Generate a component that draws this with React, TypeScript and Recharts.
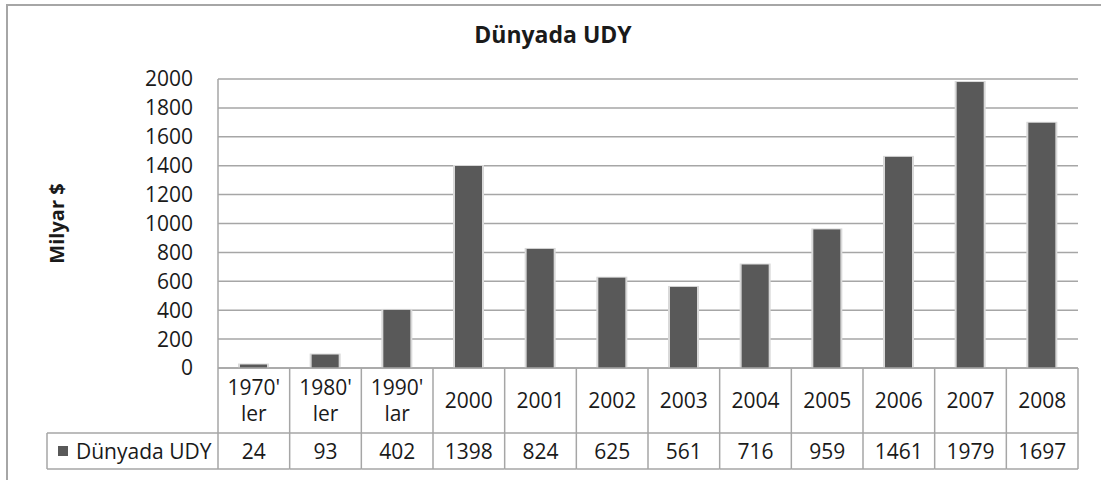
import { BarChart, Bar, XAxis, YAxis, CartesianGrid } from 'recharts';

const categories = ["1970' ler", "1980' ler", "1990' lar", "2000", "2001", "2002", "2003", "2004", "2005", "2006", "2007", "2008"];
const values = [24, 93, 402, 1398, 824, 625, 561, 716, 959, 1461, 1979, 1697];
const yTicks = [0, 200, 400, 600, 800, 1000, 1200, 1400, 1600, 1800, 2000];
const seriesName = "Dünyada UDY";

const data = categories.map((c, i) => ({ name: c, value: values[i] }));

const FONT = "'Open Sans', 'DejaVu Sans', sans-serif";
const FS = 21;
const LINE = '#a6a6a6';
const BAR = '#595959';
const TXT = '#1a1a1a';
const PLOT_LEFT = 218;
const PLOT_RIGHT = 1078;
const COL_W = (PLOT_RIGHT - PLOT_LEFT) / categories.length;
const ROW1 = 65;
const ROW2 = 101;

const TableTick = (props: any) => {
  const { x, y, payload, index } = props;
  const left = x - COL_W / 2;
  const right = x + COL_W / 2;
  const parts = String(payload.value).split(' ');
  const val = values[index];
  return (
    <g>
      {index === 0 && (
        <g>
          <line x1={left} y1={y} x2={left} y2={y + ROW2} stroke={LINE} strokeWidth={1.5} />
          <line x1={47} y1={y + ROW1} x2={left} y2={y + ROW1} stroke={LINE} strokeWidth={1.5} />
          <line x1={47} y1={y + ROW2} x2={left} y2={y + ROW2} stroke={LINE} strokeWidth={1.5} />
          <line x1={47} y1={y + ROW1} x2={47} y2={y + ROW2} stroke={LINE} strokeWidth={1.5} />
          <rect x={58} y={y + 78} width={10} height={10} fill={BAR} />
          <text x={76} y={y + 83} fontSize={FS} fill={TXT} dominantBaseline="central" fontFamily={FONT}>
            {seriesName}
          </text>
        </g>
      )}
      <line x1={right} y1={y} x2={right} y2={y + ROW2} stroke={LINE} strokeWidth={1.5} />
      <line x1={left} y1={y + ROW1} x2={right} y2={y + ROW1} stroke={LINE} strokeWidth={1.5} />
      <line x1={left} y1={y + ROW2} x2={right} y2={y + ROW2} stroke={LINE} strokeWidth={1.5} />
      {parts.length === 1 ? (
        <text x={x} y={y + 32} textAnchor="middle" dominantBaseline="central" fontSize={FS} fill={TXT} fontFamily={FONT}>
          {parts[0]}
        </text>
      ) : (
        parts.map((p, i) => (
          <text key={i} x={x} y={y + 19 + i * 26} textAnchor="middle" dominantBaseline="central" fontSize={FS} fill={TXT} fontFamily={FONT}>
            {p}
          </text>
        ))
      )}
      <text x={x} y={y + 83} textAnchor="middle" dominantBaseline="central" fontSize={FS} fill={TXT} fontFamily={FONT}>
        {val}
      </text>
    </g>
  );
};

const ShadowBar = (props: any) => {
  const { x, y, width, height } = props;
  if (height <= 0) return null;
  return (
    <g>
      <rect x={x - 2} y={y - 1} width={width + 4} height={height + 1} fill="#d9d9d9" />
      <rect x={x} y={y} width={width} height={height} fill={BAR} />
    </g>
  );
};

export default function App() {
  return (
    <div style={{ position: 'absolute', left: 0, top: 0, width: 1101, height: 480, background: '#fff', fontFamily: FONT, overflow: 'hidden' }}>
      <div style={{ position: 'absolute', left: 6, top: 4, width: 1200, height: 600, borderLeft: '2px solid #a6a6a6', borderTop: '2px solid #a6a6a6' }} />
      <div style={{ position: 'absolute', left: 0, top: 18, width: 1106, textAlign: 'center', fontSize: 23, fontWeight: 700, color: TXT, lineHeight: '32px' }}>
        {seriesName}
      </div>
      <div style={{ position: 'absolute', left: 0, top: 0 }}>
        <BarChart width={1101} height={480} data={data} margin={{ top: 79, right: 1101 - PLOT_RIGHT, bottom: 0, left: 0 }} barSize={27}>
          <CartesianGrid vertical={false} stroke={LINE} strokeWidth={1.5} />
          <XAxis
            dataKey="name"
            height={112}
            axisLine={{ stroke: LINE, strokeWidth: 1.5 }}
            tickLine={false}
            tickSize={0}
            tickMargin={0}
            interval={0}
            tick={<TableTick />}
          />
          <YAxis
            width={PLOT_LEFT}
            domain={[0, 2000]}
            ticks={yTicks}
            interval={0}
            axisLine={{ stroke: LINE, strokeWidth: 1.5 }}
            tickLine={false}
            tickSize={0}
            tickMargin={25}
            tick={{ fontSize: FS, fill: TXT, fontFamily: FONT }}
            label={{ value: 'Milyar $', angle: -90, position: 'insideLeft', offset: 57, style: { textAnchor: 'middle', fontWeight: 700, fontSize: 20, fill: TXT, fontFamily: FONT } }}
          />
          <Bar dataKey="value" name={seriesName} fill={BAR} shape={<ShadowBar />} isAnimationActive={false} />
        </BarChart>
      </div>
    </div>
  );
}
